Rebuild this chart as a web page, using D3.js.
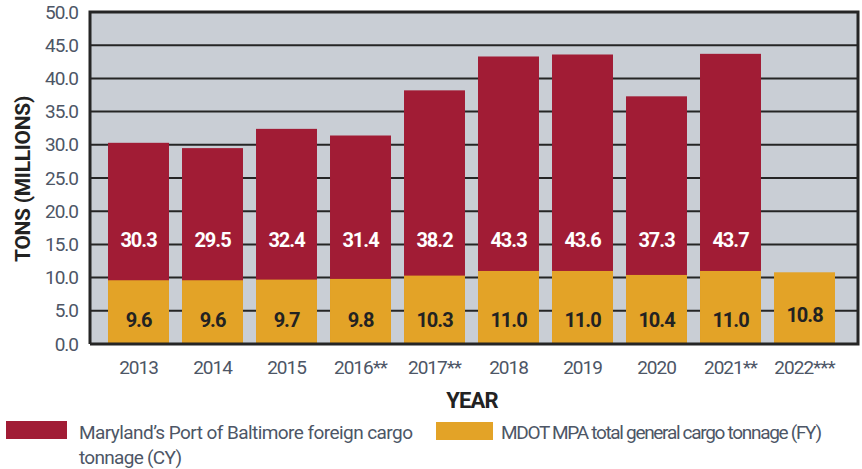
<!DOCTYPE html>
<html lang="en">
  <head>
    <meta charset="utf-8">
    <title>Port of Baltimore cargo tonnage</title>
    <script src="https://d3js.org/d3.v7.min.js"></script>
    <style>
      body { margin: 0; background: #fff; }
      text { font-family: Roboto, "Liberation Sans", sans-serif; }
    </style>
  </head>
  <body>
    <script>
      var years = ["2013", "2014", "2015", "2016**", "2017**", "2018", "2019", "2020", "2021**", "2022***"];
      var foreignCargo = [30.3, 29.5, 32.4, 31.4, 38.2, 43.3, 43.6, 37.3, 43.7, null];
      var generalCargo = [9.6, 9.6, 9.7, 9.8, 10.3, 11.0, 11.0, 10.4, 11.0, 10.8];
      var yTicks = [0, 5, 10, 15, 20, 25, 30, 35, 40, 45, 50];

      var width = 862, height = 469;
      var plot = {left: 90, right: 858, top: 12, bottom: 344};
      var grey = "#4d5666";

      var svg = d3.select("body").append("svg")
        .attr("width", width)
        .attr("height", height);

      var y = d3.scaleLinear().domain([0, 50]).range([plot.bottom, plot.top]);
      var x = d3.scaleBand().domain(years)
        .range([101.5, 841.5])
        .paddingInner(0.176)
        .paddingOuter(0.088);

      // background
      svg.append("rect")
        .attr("x", plot.left).attr("y", plot.top)
        .attr("width", plot.right - plot.left).attr("height", plot.bottom - plot.top)
        .attr("fill", "#c9ced5");

      // gridlines
      svg.append("g").selectAll("line")
        .data(yTicks.slice(1, -1))
        .join("line")
          .attr("x1", plot.left).attr("x2", plot.right)
          .attr("y1", d => y(d)).attr("y2", d => y(d))
          .attr("stroke", "#252525")
          .attr("stroke-width", 2);

      // red bars
      svg.append("g").selectAll("rect")
        .data(years.filter((d, i) => foreignCargo[i] != null))
        .join("rect")
          .attr("x", d => x(d))
          .attr("y", d => y(foreignCargo[years.indexOf(d)]))
          .attr("width", x.bandwidth())
          .attr("height", d => plot.bottom - y(foreignCargo[years.indexOf(d)]))
          .attr("fill", "#a11c35");

      // gold bars
      svg.append("g").selectAll("rect")
        .data(years)
        .join("rect")
          .attr("x", d => x(d))
          .attr("y", (d, i) => y(generalCargo[i]))
          .attr("width", x.bandwidth())
          .attr("height", (d, i) => plot.bottom - y(generalCargo[i]))
          .attr("fill", "#e3a327");

      // frame
      svg.append("path")
        .attr("d", `M${plot.left},${plot.bottom}V${plot.top}H${plot.right}V${plot.bottom}H${plot.left}`)
        .attr("fill", "none")
        .attr("stroke", "#252525")
        .attr("stroke-width", 3);

      // value labels
      svg.append("g").selectAll("text")
        .data(years.filter((d, i) => foreignCargo[i] != null))
        .join("text")
          .attr("x", d => x(d) + x.bandwidth() / 2)
          .attr("y", y(15.6))
          .attr("dy", "0.35em")
          .attr("text-anchor", "middle")
          .attr("fill", "#fff")
          .attr("font-weight", "bold")
          .attr("font-size", 20)
          .attr("letter-spacing", -1)
          .text(d => foreignCargo[years.indexOf(d)].toFixed(1));

      svg.append("g").selectAll("text")
        .data(years)
        .join("text")
          .attr("x", d => x(d) + x.bandwidth() / 2)
          .attr("y", (d, i) => i === 9 ? y(4.3) : y(3.6))
          .attr("dy", "0.35em")
          .attr("text-anchor", "middle")
          .attr("fill", "#222")
          .attr("font-weight", "bold")
          .attr("font-size", 20)
          .attr("letter-spacing", -1)
          .text((d, i) => generalCargo[i].toFixed(1));

      // y axis labels
      svg.append("g").selectAll("text")
        .data(yTicks)
        .join("text")
          .attr("x", 78)
          .attr("y", d => y(d))
          .attr("dy", "0.35em")
          .attr("text-anchor", "end")
          .attr("fill", grey)
          .attr("font-size", 19)
          .attr("letter-spacing", -1)
          .text(d => d.toFixed(1));

      // x axis labels
      svg.append("g").selectAll("text")
        .data(years)
        .join("text")
          .attr("x", d => x(d) + x.bandwidth() / 2)
          .attr("y", 367)
          .attr("dy", "0.35em")
          .attr("text-anchor", "middle")
          .attr("fill", grey)
          .attr("font-size", 19)
          .attr("letter-spacing", -1)
          .text(d => d);

      svg.append("text")
        .attr("x", 472).attr("y", 400)
        .attr("dy", "0.35em")
        .attr("text-anchor", "middle")
        .attr("fill", "#222")
        .attr("font-weight", "bold")
        .attr("font-size", 22)
        .attr("letter-spacing", -0.8)
        .text("YEAR");

      svg.append("text")
        .attr("transform", "translate(23,179) rotate(-90)")
        .attr("dy", "0.35em")
        .attr("text-anchor", "middle")
        .attr("fill", "#222")
        .attr("font-weight", "bold")
        .attr("font-size", 21)
        .attr("letter-spacing", -0.3)
        .text("TONS (MILLIONS)");

      // legend
      var legend = svg.append("g");
      legend.append("rect")
        .attr("x", 6).attr("y", 421).attr("width", 61).attr("height", 18)
        .attr("fill", "#a11c35");
      legend.append("text")
        .attr("x", 79).attr("y", 432).attr("dy", "0.35em")
        .attr("fill", grey).attr("font-size", 19)
        .attr("textLength", 334).attr("lengthAdjust", "spacing")
        .text("Maryland\u2019s Port of Baltimore foreign cargo");
      legend.append("text")
        .attr("x", 79).attr("y", 457).attr("dy", "0.35em")
        .attr("fill", grey).attr("font-size", 19)
        .attr("textLength", 103).attr("lengthAdjust", "spacing")
        .text("tonnage (CY)");
      legend.append("rect")
        .attr("x", 436).attr("y", 422).attr("width", 57).attr("height", 18)
        .attr("fill", "#e3a327");
      legend.append("text")
        .attr("x", 501).attr("y", 432).attr("dy", "0.35em")
        .attr("fill", grey).attr("font-size", 19)
        .attr("textLength", 321).attr("lengthAdjust", "spacing")
        .text("MDOT MPA total general cargo tonnage (FY)");
    </script>
  </body>
</html>
